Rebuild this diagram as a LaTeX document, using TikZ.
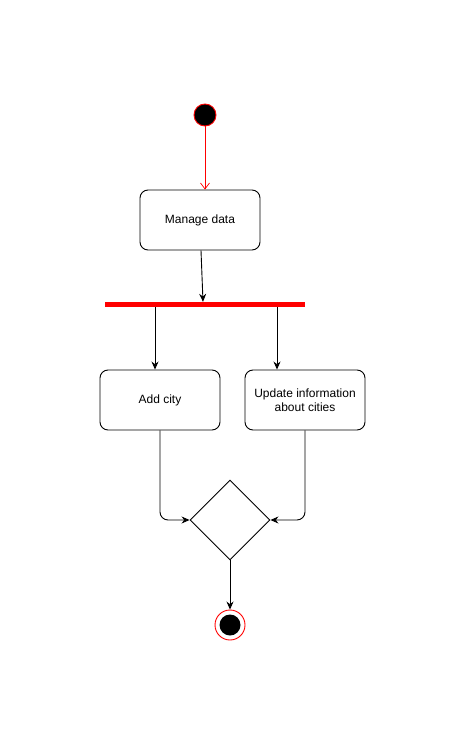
\documentclass[tikz,border=0pt]{standalone}
\usepackage{fontspec}
\setmainfont{Liberation Sans}
\usetikzlibrary{arrows.meta, shapes.geometric}
\tikzset{>={Stealth[length=8pt,width=7pt]}}

\begin{document}
\begin{tikzpicture}[x=1pt, y=-1pt,
  activity/.style={draw, line width=0.9pt, rounded corners=8pt, minimum width=120pt, minimum height=60pt, align=center, font=\fontsize{12}{14}\selectfont, inner sep=0pt},
  forkbar/.style={fill=red, minimum width=200pt, minimum height=5pt, inner sep=0pt},
  decision/.style={draw, line width=0.9pt, diamond, minimum width=80pt, minimum height=80pt, inner sep=0pt, fill=white},
  startdot/.style={circle, draw=red, line width=0.9pt, fill=black, minimum size=22pt, inner sep=0pt},
  enddot/.style={circle, draw=red, line width=0.9pt, fill=white, minimum size=30pt, inner sep=0pt},
  flow/.style={->, line width=0.9pt}]
\useasboundingbox (0,0) rectangle (466,741);
\node[startdot] (start) at (205,115) {};
\node[activity] (manage) at (200,220) {Manage data};
\node[forkbar] (fork) at (205,304.5) {};
\node[activity] (addcity) at (160,400) {Add city};
\node[activity] (update) at (305,400) {Update information\\about cities};
\node[decision] (merge) at (230,520) {};
\node[enddot] (stop) at (230,625) {};
\node[circle, fill=black, minimum size=21pt, inner sep=0pt] (stopdot) at (stop.center) {};

\draw[red, line width=0.7pt, -{Straight Barb[length=6pt,width=9pt]}] (start) -- (manage.north -| start);
\draw[flow] ([xshift=1pt]manage.south) -- ([xshift=-2pt]fork.north);
\draw[flow] ([xshift=-50pt]fork.south) -- ([xshift=-5pt]addcity.north);
\draw[flow] ([xshift=72pt]fork.south) -- ([xshift=-28pt]update.north);
\draw[flow, rounded corners=8pt] (addcity.south) |- (merge.west);
\draw[flow, rounded corners=8pt] (update.south) |- (merge.east);
\draw[flow] (merge.south) -- (stop.north);

\end{tikzpicture}
\end{document}
